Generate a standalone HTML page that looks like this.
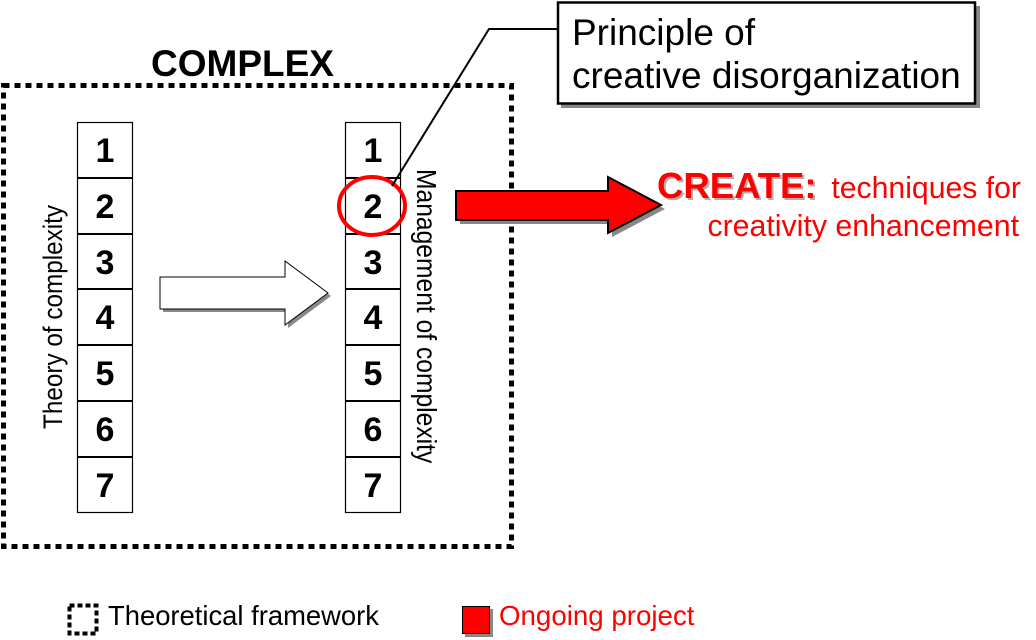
<!DOCTYPE html>
<html>
<head>
<meta charset="utf-8">
<style>
  html, body { margin: 0; padding: 0; background: #fff; }
  body { width: 1036px; height: 640px; overflow: hidden; }
  svg { display: block; }
  text { font-family: "Liberation Sans", Arial, sans-serif; }
</style>
</head>
<body>
<svg width="1036" height="640" viewBox="0 0 1036 640" xmlns="http://www.w3.org/2000/svg">
  <!-- Dotted frame -->
  <rect x="3.5" y="85.5" width="508" height="461" fill="none" stroke="#000" stroke-width="5" stroke-dasharray="6 5"/>

  <!-- COMPLEX -->
  <text x="151" y="76" font-size="37" font-weight="bold" fill="#000">COMPLEX</text>

  <!-- Columns -->
  <g stroke="#000" fill="#fff">
    <rect x="77.5" y="122.5" width="55" height="390" stroke-width="1.2"/>
    <rect x="345.5" y="122.5" width="55" height="390" stroke-width="1.2"/>
  </g>
  <g stroke="#000" stroke-width="2">
    <line x1="77" y1="178" x2="133" y2="178"/>
    <line x1="77" y1="234" x2="133" y2="234"/>
    <line x1="77" y1="289" x2="133" y2="289"/>
    <line x1="77" y1="345" x2="133" y2="345"/>
    <line x1="77" y1="401" x2="133" y2="401"/>
    <line x1="77" y1="457" x2="133" y2="457"/>
    <line x1="345" y1="178" x2="401" y2="178"/>
    <line x1="345" y1="234" x2="401" y2="234"/>
    <line x1="345" y1="289" x2="401" y2="289"/>
    <line x1="345" y1="345" x2="401" y2="345"/>
    <line x1="345" y1="401" x2="401" y2="401"/>
    <line x1="345" y1="457" x2="401" y2="457"/>
  </g>
  <g font-size="34" font-weight="bold" fill="#000" text-anchor="middle">
    <text x="105" y="162">1</text>
    <text x="105" y="218">2</text>
    <text x="105" y="274">3</text>
    <text x="105" y="329">4</text>
    <text x="105" y="385">5</text>
    <text x="105" y="441">6</text>
    <text x="105" y="497">7</text>
    <text x="373" y="162">1</text>
    <text x="373" y="218">2</text>
    <text x="373" y="274">3</text>
    <text x="373" y="329">4</text>
    <text x="373" y="385">5</text>
    <text x="373" y="441">6</text>
    <text x="373" y="497">7</text>
  </g>

  <!-- Vertical labels -->
  <text transform="translate(62,429) rotate(-90) scale(0.9,1)" font-size="27" fill="#000">Theory of complexity</text>
  <text transform="translate(417,169) rotate(90) scale(0.88,1)" font-size="28" fill="#000">Management of complexity</text>

  <!-- White arrow with shadow -->
  <polygon points="163,280 288,280 288,264 331,296 288,328 288,312 163,312" fill="#888"/>
  <polygon points="160,277 285,277 285,261 328,293 285,325 285,309 160,309" fill="#fff" stroke="#000" stroke-width="1"/>

  <!-- Red circle -->
  <ellipse cx="372" cy="206" rx="33" ry="29" fill="none" stroke="#f00" stroke-width="4"/>

  <!-- Leader line -->
  <polyline points="392,186 489,29 558,29" fill="none" stroke="#000" stroke-width="2"/>

  <!-- Principle box -->
  <rect x="561" y="6" width="419" height="102" fill="#888"/>
  <rect x="558" y="2.5" width="417" height="101" fill="#fff" stroke="#000" stroke-width="2.5"/>
  <text x="572" y="45" font-size="37" fill="#000">Principle of</text>
  <text x="572" y="88" font-size="37" fill="#000">creative disorganization</text>

  <!-- Red arrow with shadow -->
  <polygon points="460,195 612,195 612,181 665,209 612,237 612,224 460,224" fill="#888"/>
  <polygon points="456,191 608,191 608,177 661,205 608,233 608,220 456,220" fill="#f00" stroke="#000" stroke-width="2" stroke-linejoin="miter"/>

  <!-- CREATE text -->
  <text x="659" y="200" font-size="36.5" font-weight="bold" fill="#b0b0b0">CREATE:</text>
  <text x="657" y="198" font-size="36.5" font-weight="bold" fill="#f00">CREATE:</text>
  <text x="1021" y="198" font-size="30.2" fill="#f00" text-anchor="end">techniques for</text>
  <text x="1019" y="236" font-size="30.3" fill="#f00" text-anchor="end">creativity enhancement</text>

  <!-- Legend -->
  <rect x="69.5" y="605.5" width="27" height="28" fill="none" stroke="#000" stroke-width="4" stroke-dasharray="5 3"/>
  <text x="108" y="625" font-size="27.4" fill="#000">Theoretical framework</text>

  <rect x="465" y="609" width="28" height="28" fill="#888"/>
  <rect x="462.5" y="606.5" width="27" height="27" fill="#f00" stroke="#000" stroke-width="1"/>
  <text x="499" y="625" font-size="27.7" fill="#f00">Ongoing project</text>
</svg>
</body>
</html>
